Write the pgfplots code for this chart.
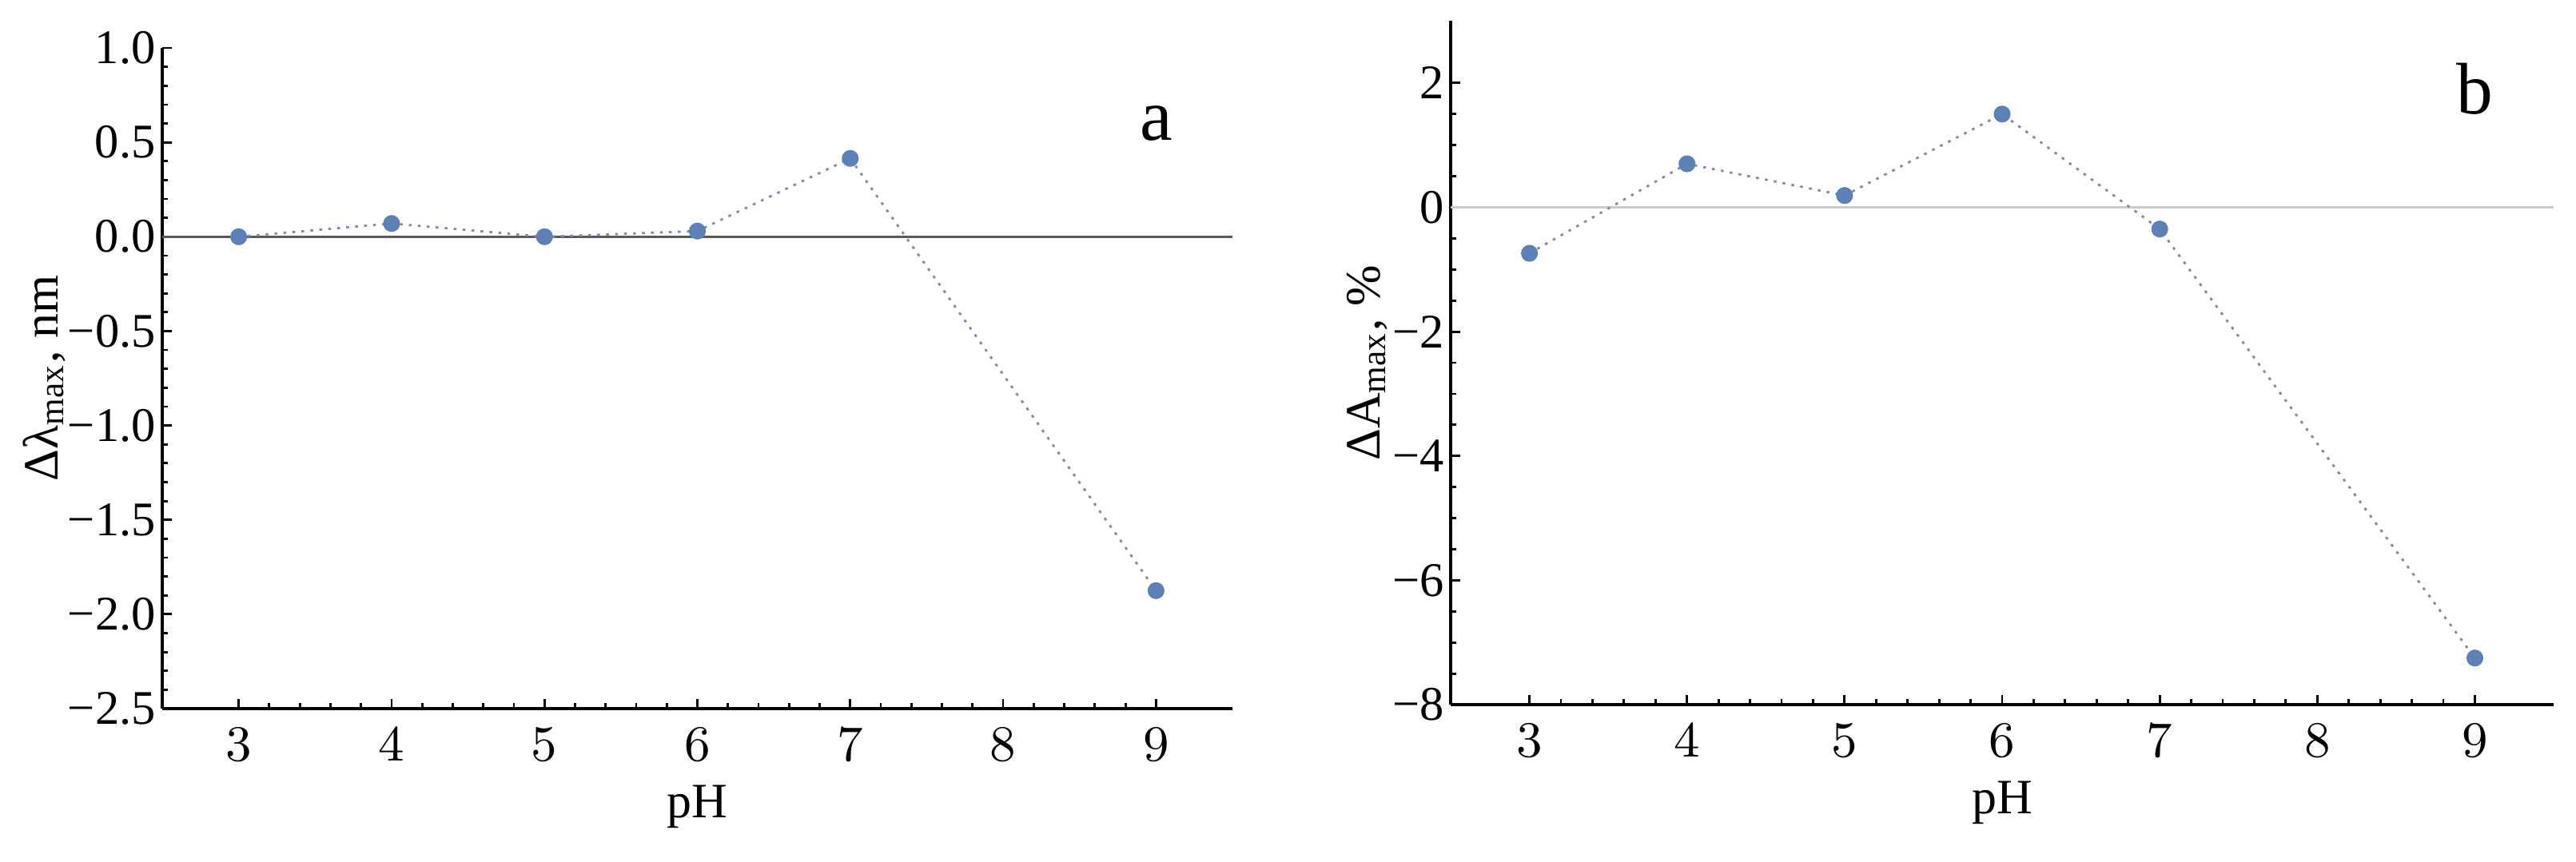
\documentclass[border=0pt]{standalone}
\usepackage{fontspec}
\setmainfont{Liberation Serif}
\usepackage{pgfplots}
\pgfplotsset{compat=1.18}
\definecolor{mmablue}{RGB}{94,129,181}
\definecolor{dotline}{RGB}{125,140,170}

\pgfplotsset{
  mma/.style={
    scale only axis,
    axis lines=left,
    axis line style={-, line width=0.6pt},
    tick align=inside,
    major tick length=0.06cm,
    minor tick length=0.035cm,
    tick style={black, line width=0.4pt},
    xmin=2.5, xmax=9.5,
    xtick={3,4,5,6,7,8,9},
    minor x tick num=4,
    tick label style={font=\fontsize{8.6}{10}\selectfont},
    yticklabel style={inner xsep=1pt},
    every axis x label/.style={at={(axis description cs:0.5,0)}, yshift=-0.615cm, anchor=center, font=\fontsize{8.8}{10}\selectfont},
    clip=false,
  },
  pts/.style={color=dotline, line width=0.4pt, dash pattern=on 0.5pt off 1.1pt,
    mark=*, mark size=1.3pt, mark options={solid, fill=mmablue, draw=mmablue}},
}

\begin{document}
\begin{tikzpicture}
\useasboundingbox (0,0) rectangle (16.115cm,5.39cm);

% panel a
\begin{axis}[mma,
  at={(1.015cm,0.955cm)}, anchor=south west,
  width=6.695cm, height=4.135cm,
  ymin=-2.5, ymax=1,
  ytick={-2.5,-2,-1.5,-1,-0.5,0,0.5,1},
  yticklabels={−2.5,−2.0,−1.5,−1.0,−0.5,0.0,0.5,1.0},
  minor y tick num=4,
  xlabel={pH},
  ylabel={Δλ\textsubscript{max}, nm},
  every axis y label/.style={at={(axis description cs:0,0.5)}, xshift=-0.74cm, rotate=90, anchor=center, font=\fontsize{8.8}{10}\selectfont},
]
\addplot[color=black!65, line width=0.5pt] coordinates {(2.5,0) (9.5,0)};
\addplot[pts] coordinates {
  (3,0.0) (4,0.07) (5,0.0) (6,0.03) (7,0.415) (9,-1.875)
};
\node at (axis cs:9,0.6) {\fontsize{13}{15}\selectfont a};
\end{axis}

% panel b
\begin{axis}[mma,
  at={(9.075cm,0.98cm)}, anchor=south west,
  width=6.9cm, height=4.28cm,
  ymin=-8, ymax=3,
  ytick={-8,-6,-4,-2,0,2},
  yticklabels={−8,−6,−4,−2,0,2},
  minor y tick num=3,
  xlabel={pH},
  ylabel={ΔA\textsubscript{max}, \%},
  every axis y label/.style={at={(axis description cs:0,0.5)}, xshift=-0.52cm, rotate=90, anchor=center, font=\fontsize{8.8}{10}\selectfont},
]
\addplot[color=black!20, line width=0.5pt] coordinates {(2.5,0) (9.5,0)};
\addplot[pts] coordinates {
  (3,-0.74) (4,0.70) (5,0.19) (6,1.50) (7,-0.35) (9,-7.25)
};
\node at (axis cs:9,1.9) {\fontsize{13}{15}\selectfont b};
\end{axis}
\end{tikzpicture}
\end{document}
